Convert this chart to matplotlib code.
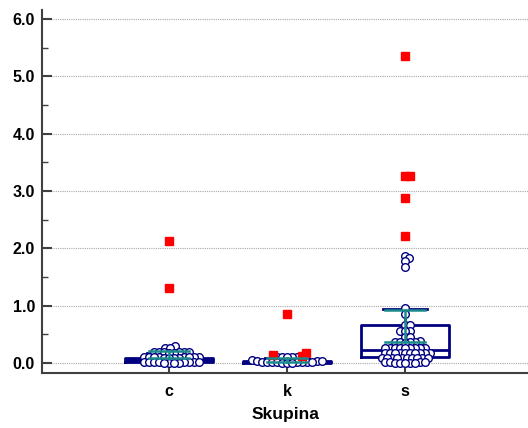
import numpy as np
import matplotlib.pyplot as plt

# Data
groups = ['c', 'k', 's']

c_vals = [0.30, 0.27, 0.26,
          0.20, 0.20, 0.20, 0.19, 0.19, 0.19, 0.18, 0.18,
          0.11, 0.11, 0.11, 0.11, 0.10, 0.10, 0.10, 0.10, 0.09, 0.09, 0.09, 0.09,
          0.02, 0.02, 0.02, 0.02, 0.01, 0.01, 0.01, 0.01, 0.0, 0.0, 0.0, 0.0]
c_far = [2.13, 1.30]

k_vals = [0.10, 0.10, 0.10, 0.10, 0.10, 0.05, 0.03, 0.03, 0.03, 0.02, 0.02, 0.02,
          0.02, 0.01, 0.01, 0.01, 0.01, 0.0, 0.0, 0.0]
k_far = [0.85, 0.17, 0.14, 0.12]

s_vals = [1.87, 1.83, 1.78, 1.68, 0.96, 0.85, 0.66, 0.66, 0.56, 0.56, 0.55, 0.46,
          0.46, 0.38, 0.37, 0.37, 0.36, 0.36, 0.35,
          0.27, 0.27, 0.27, 0.27, 0.26, 0.26, 0.26, 0.26, 0.26,
          0.18, 0.18, 0.18, 0.18, 0.17, 0.17, 0.17, 0.17, 0.17, 0.17,
          0.09, 0.09, 0.09, 0.09, 0.08, 0.08, 0.08, 0.08, 0.08, 0.08,
          0.01, 0.01, 0.01, 0.01, 0.0, 0.0, 0.0, 0.0, 0.0]
s_far = [5.35, 3.27, 3.27, 2.88, 2.22]

# box statistics
q1 = [0.02, 0.00, 0.10]
med = [0.05, 0.02, 0.22]
q3 = [0.09, 0.04, 0.66]
whis_lo = [0.00, 0.00, 0.00]
whis_hi = [0.17, 0.09, 0.94]
# teal interval (mean / CI)
ci_lo = [0.08, 0.02, 0.37]
ci_hi = [0.21, 0.08, 0.93]

all_vals = [c_vals, k_vals, s_vals]
all_far = [c_far, k_far, s_far]

navy = '#000080'
teal = '#1a8a8a'

fig = plt.figure(figsize=(5.28, 4.28), dpi=100)
ax = fig.add_axes([42 / 528, 55 / 428, 486 / 528, 363 / 428])
ax.set_xlim(-0.076, 4.042)
ax.set_ylim(-0.174, 6.157)

# pixels per data unit, for the swarm layout
px_x = 118.0
px_y = 57.33


def swarm(values, d=6.0):
    # place each point as close to the centre as possible without overlap
    order = np.argsort(values)
    placed = []
    offs = np.zeros(len(values))
    cands = np.arange(0, 60, 0.5)
    cands = np.concatenate([[0], np.ravel(np.column_stack([cands[1:], -cands[1:]]))])
    for i in order:
        yp = values[i] * px_y
        for c in cands:
            ok = True
            for (xo, yo) in placed:
                if (c - xo) ** 2 + (yp - yo) ** 2 < d * d:
                    ok = False
                    break
            if ok:
                break
        placed.append((c, yp))
        offs[i] = c
    return offs / px_x


for i, g in enumerate(groups):
    pos = i + 1
    vals = np.array(all_vals[i] + all_far[i])
    offs = swarm(vals, d=4.8)
    n = len(all_vals[i])
    st = dict(med=med[i], q1=q1[i], q3=q3[i], whislo=whis_lo[i], whishi=whis_hi[i], fliers=[])
    ax.bxp([st], positions=[pos], widths=0.75, showfliers=False,
           boxprops=dict(color=navy, lw=2), medianprops=dict(color=navy, lw=2),
           whiskerprops=dict(color=navy, lw=2), capprops=dict(color=navy, lw=2),
           capwidths=0.37)
    ax.plot(pos + offs[:n], vals[:n], 'o', mfc='white', mec=navy, mew=1, ms=5.5, zorder=3)
    ax.plot(pos + offs[n:], vals[n:], 's', color='#ff0000', ms=6.3, zorder=4)
    ax.plot([pos, pos], [ci_lo[i], ci_hi[i]], color=teal, lw=1.8, zorder=5)
    for v in (ci_lo[i], ci_hi[i]):
        ax.plot([pos - 0.17, pos + 0.17], [v, v], color=teal, lw=1.8, zorder=5)

ax.set_xticks([1, 2, 3])
ax.set_xticklabels(groups, fontsize=11.5, fontweight='bold', family='Liberation Sans')
ax.set_yticks(np.arange(0, 6.1, 1.0))
ax.set_yticklabels(['%.1f' % v for v in np.arange(0, 6.1, 1.0)],
                   fontsize=11.5, fontweight='bold', family='Liberation Sans')
ax.set_yticks(np.arange(0.5, 6.0, 1.0), minor=True)
ax.tick_params(axis='y', which='major', direction='in', length=7, width=1.5, color='#404040', pad=5)
ax.tick_params(axis='y', which='minor', direction='in', length=4, width=1, color='#404040')
ax.tick_params(axis='x', which='major', direction='in', length=5, width=1.5, color='#404040', pad=8)
ax.yaxis.grid(True, linestyle=(0, (1, 1)), color='#a8a8a8', lw=0.8)
ax.set_axisbelow(True)
ax.spines['top'].set_visible(False)
ax.spines['right'].set_visible(False)
for s in ('left', 'bottom'):
    ax.spines[s].set_color('#404040')
    ax.spines[s].set_linewidth(1.5)
ax.set_xlabel('Skupina', fontsize=12.5, fontweight='bold', family='Liberation Sans', labelpad=6)

fig.savefig('out.png', dpi=100)
